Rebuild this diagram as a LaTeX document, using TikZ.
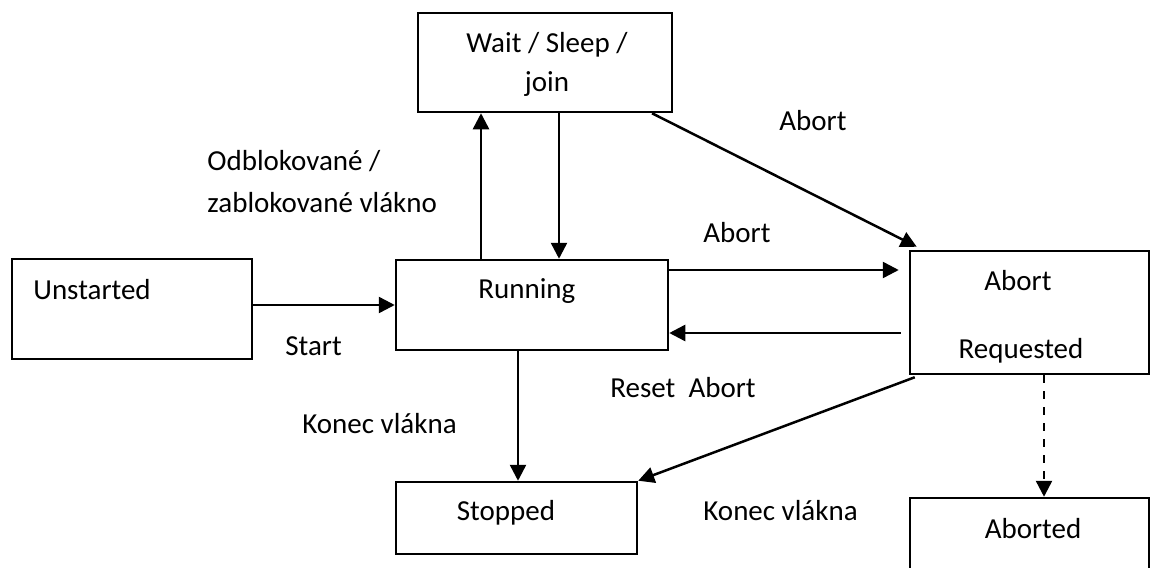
\documentclass[tikz,border=0pt]{standalone}
\usepackage{fontspec}
\setmainfont{Carlito}
\usetikzlibrary{arrows.meta,fit}
\tikzset{
  box/.style={draw, line width=1.25pt, inner sep=0pt},
  lbl/.style={inner sep=0pt},
  arr/.style={line width=1.25pt, -{Triangle[length=8pt,width=8pt]}},
}
\begin{document}
\begin{tikzpicture}[x=0.5pt,y=-0.5pt,font=\fontsize{14.5pt}{17pt}\selectfont]
\useasboundingbox (0,0) rectangle (1150,567);
\clip (0,0) rectangle (1150,567);
% boxes
\node[box, fit={(418,13) (672,112)}] (wait) {};
\node[box, fit={(12,259) (252,359)}] (unst) {};
\node[box, fit={(396,260) (668,350)}] (run) {};
\node[box, fit={(910,251) (1149,374)}] (ar) {};
\node[box, fit={(396,482) (637,554)}] (stop) {};
\node[box, fit={(910,498) (1149,640)}] (abd) {};
% box texts
\node[lbl, anchor=base] at (547,53) {Wait / Sleep /};
\node[lbl, anchor=base] at (547,92) {join};
\node[lbl, anchor=base west] at (33,299) {Unstarted};
\node[lbl, anchor=base west] at (478,298) {Running};
\node[lbl, anchor=base] at (1018,290) {Abort};
\node[lbl, anchor=base] at (1021,358) {Requested};
\node[lbl, anchor=base] at (506,520) {Stopped};
\node[lbl, anchor=base] at (1033,538) {Aborted};
% connectors
\draw[arr] (run.north -| 481,0) -- (wait.south -| 481,0);
\draw[arr] (wait.south -| 559,0) -- (run.north -| 559,0);
\draw[arr] (wait.south -| 652,0) -- ([shift={(8,-3)}]ar.north west);
\draw[arr, shorten >=5pt] (run.east |- 0,270) -- (ar.west |- 0,270);
\draw[arr, shorten <=4pt] (ar.west |- 0,333) -- (run.east |- 0,333);
\draw[arr] (unst.east |- 0,305) -- (run.west |- 0,305);
\draw[arr] (run.south -| 518,0) -- (stop.north -| 518,0);
\draw[arr] ([shift={(6,2)}]ar.south west) -- (stop.north east);
\draw[arr, dash pattern=on 4pt off 4pt] (ar.south -| 1044,0) -- (abd.north -| 1044,0);
% connector labels
\node[lbl, anchor=base west] at (779,130) {Abort};
\node[lbl, anchor=base west] at (207,170) {Odblokované /};
\node[lbl, anchor=base west] at (207,212) {zablokované vlákno};
\node[lbl, anchor=base west] at (703,242) {Abort};
\node[lbl, anchor=base west] at (285,355) {Start};
\node[lbl, anchor=base west] at (610,397) {Reset\ \ Abort};
\node[lbl, anchor=base west] at (302,433) {Konec vlákna};
\node[lbl, anchor=base west] at (703,520) {Konec vlákna};
\end{tikzpicture}
\end{document}
